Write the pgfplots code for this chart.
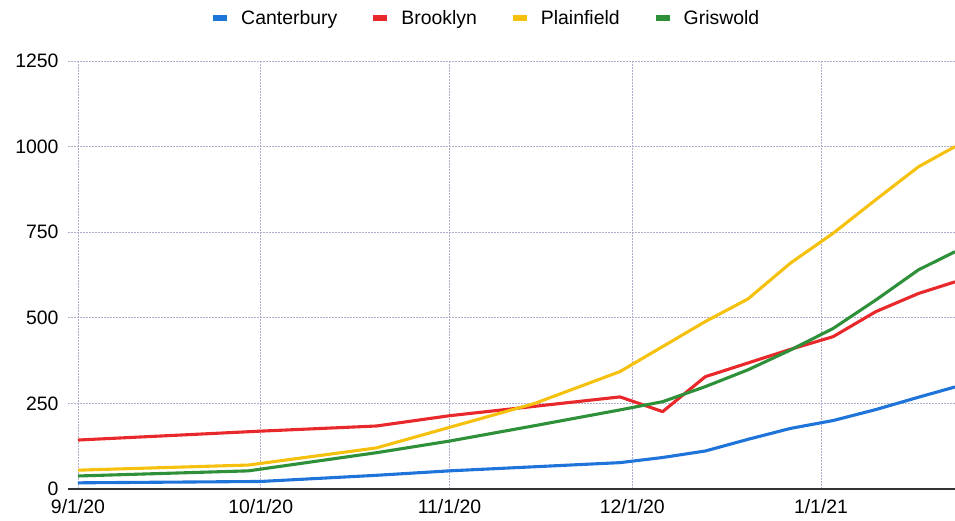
\documentclass[border=0pt]{standalone}
\usepackage{pgfplots}
\pgfplotsset{compat=1.18}
\usepackage{fontspec}
\setmainfont{Liberation Sans}

\definecolor{cblue}{HTML}{1E74D8}
\definecolor{cred}{HTML}{E8282B}
\definecolor{cyellow}{HTML}{F5C10E}
\definecolor{cgreen}{HTML}{2E9139}
\definecolor{gridc}{RGB}{172,172,205}

\begin{document}
\begin{tikzpicture}
\begin{axis}[
    at={(0,0)}, anchor=south west,
    scale only axis,
    width=887bp, height=428bp,
    xmin=-1.64, xmax=144,
    ymin=0, ymax=1250,
    xtick={0,30,61,91,122},
    xticklabels={9/1/20,10/1/20,11/1/20,12/1/20,1/1/21},
    ytick={0,250,500,750,1000,1250},
    /pgf/number format/1000 sep={},
    /pgf/number format/assume math mode=true,
    major tick length=0pt,
    tick label style={font=\fontsize{19.5}{22}\selectfont},
    xticklabel style={yshift=-7bp},
    yticklabel style={xshift=-6bp},
    grid=major,
    major grid style={gridc, line width=0.9bp, dash pattern=on 2bp off 1bp},
    axis x line=bottom, axis y line=left,
    x axis line style={-, line width=2bp, color=black!80},
    y axis line style={draw=none},
    legend columns=-1,
    legend style={draw=none, at={(0.471,1)}, anchor=center, yshift=43bp,
        font=\fontsize{19.5}{22}\selectfont,
        /tikz/every odd column/.append style={column sep=9bp},
        /tikz/every even column/.append style={column sep=31bp}},
    legend image code/.code={\draw[line width=6bp] (0bp,0bp) -- (14bp,0bp);},
    every axis plot/.append style={line width=3.1bp, line join=round},
]
\addplot[cblue] coordinates {
(0,18) (30,22) (49,40) (61,53) (89,77) (96,92) (103,111) (110,145)
(117,177) (124,200) (131,232) (138,268) (144,298)
};
\addlegendentry{Canterbury}
\addplot[cred] coordinates {
(0,143) (30,169) (49,184) (61,214) (89,269) (96,226) (103,328) (110,368)
(117,408) (124,445) (131,518) (138,571) (144,605)
};
\addlegendentry{Brooklyn}
\addplot[cyellow] coordinates {
(0,55) (28,70) (49,120) (61,180) (75,250) (89,343) (96,416) (103,489)
(110,555) (117,660) (124,747) (131,845) (138,941) (144,1000)
};
\addlegendentry{Plainfield}
\addplot[cgreen] coordinates {
(0,38) (28,53) (49,106) (61,140) (75,185) (89,231) (96,255) (103,299)
(110,348) (117,406) (124,469) (131,552) (138,640) (144,693)
};
\addlegendentry{Griswold}
\end{axis}
\pgfresetboundingbox
\path (-68bp,-32bp) rectangle (887bp,489bp);
\end{tikzpicture}
\end{document}
